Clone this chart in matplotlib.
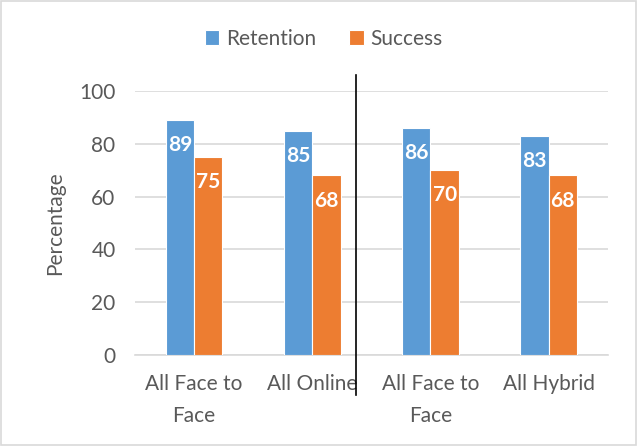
import matplotlib.pyplot as plt
import numpy as np
from matplotlib.patches import Rectangle

plt.rcParams['font.family'] = ['Lato', 'DejaVu Sans']

categories = ["All Face to\nFace", "All Online", "All Face to\nFace", "All Hybrid"]
retention = [89, 85, 86, 83]
success = [75, 68, 70, 68]

blue = "#5B9BD5"
orange = "#ED7D31"
text_gray = "#595959"
grid_gray = "#D9D9D9"

fig = plt.figure(figsize=(6.37, 4.46), dpi=100)
ax = fig.add_axes([0.212, 0.204, 0.742, 0.592])

x = np.arange(len(categories))
w = 0.24
b1 = ax.bar(x - w / 2, retention, w, color=blue, edgecolor="white", linewidth=0.8, label="Retention", zorder=3)
b2 = ax.bar(x + w / 2, success, w, color=orange, edgecolor="white", linewidth=0.8, label="Success", zorder=3)

for bars, vals in [(b1, retention), (b2, success)]:
    for rect, v in zip(bars, vals):
        ax.annotate(str(v), (rect.get_x() + rect.get_width() / 2, v),
                    xytext=(0, -11), textcoords="offset points",
                    ha="center", va="top", color="white", fontsize=15,
                    fontweight="bold", zorder=4)

ax.set_xlim(-0.5, 3.5)
ax.set_ylim(0, 100)
ax.set_yticks([0, 20, 40, 60, 80, 100])
ax.set_xticks(x)
ax.set_xticklabels(categories, linespacing=1.75)
ax.yaxis.grid(True, color=grid_gray, linewidth=1.2, zorder=0)
ax.set_axisbelow(True)
for s in ["top", "right", "left"]:
    ax.spines[s].set_visible(False)
ax.spines["bottom"].set_color(grid_gray)
ax.spines["bottom"].set_linewidth(1.2)
ax.tick_params(axis="both", length=0, labelsize=15, colors=text_gray)
ax.tick_params(axis="y", pad=14)
ax.tick_params(axis="x", pad=14)
ax.set_ylabel("Percentage", fontsize=15, color=text_gray, labelpad=10)

# divider line between the two comparisons
ax.plot([1.37, 1.37], [106, -15], color="black", linewidth=1.2, clip_on=False, zorder=5)

fig.legend(handles=[b1, b2], loc="center", bbox_to_anchor=(0.508, 1 - 39 / 446), ncol=2,
           frameon=False, fontsize=15, labelcolor=text_gray, handlelength=0.7,
           handleheight=0.7, handletextpad=0.3, columnspacing=1.6, borderaxespad=0)

fig.patches.append(Rectangle((0.002, 0.002), 0.996, 0.996, transform=fig.transFigure,
                             fill=False, edgecolor=grid_gray, linewidth=1.2))

fig.savefig("out.png", dpi=100)
